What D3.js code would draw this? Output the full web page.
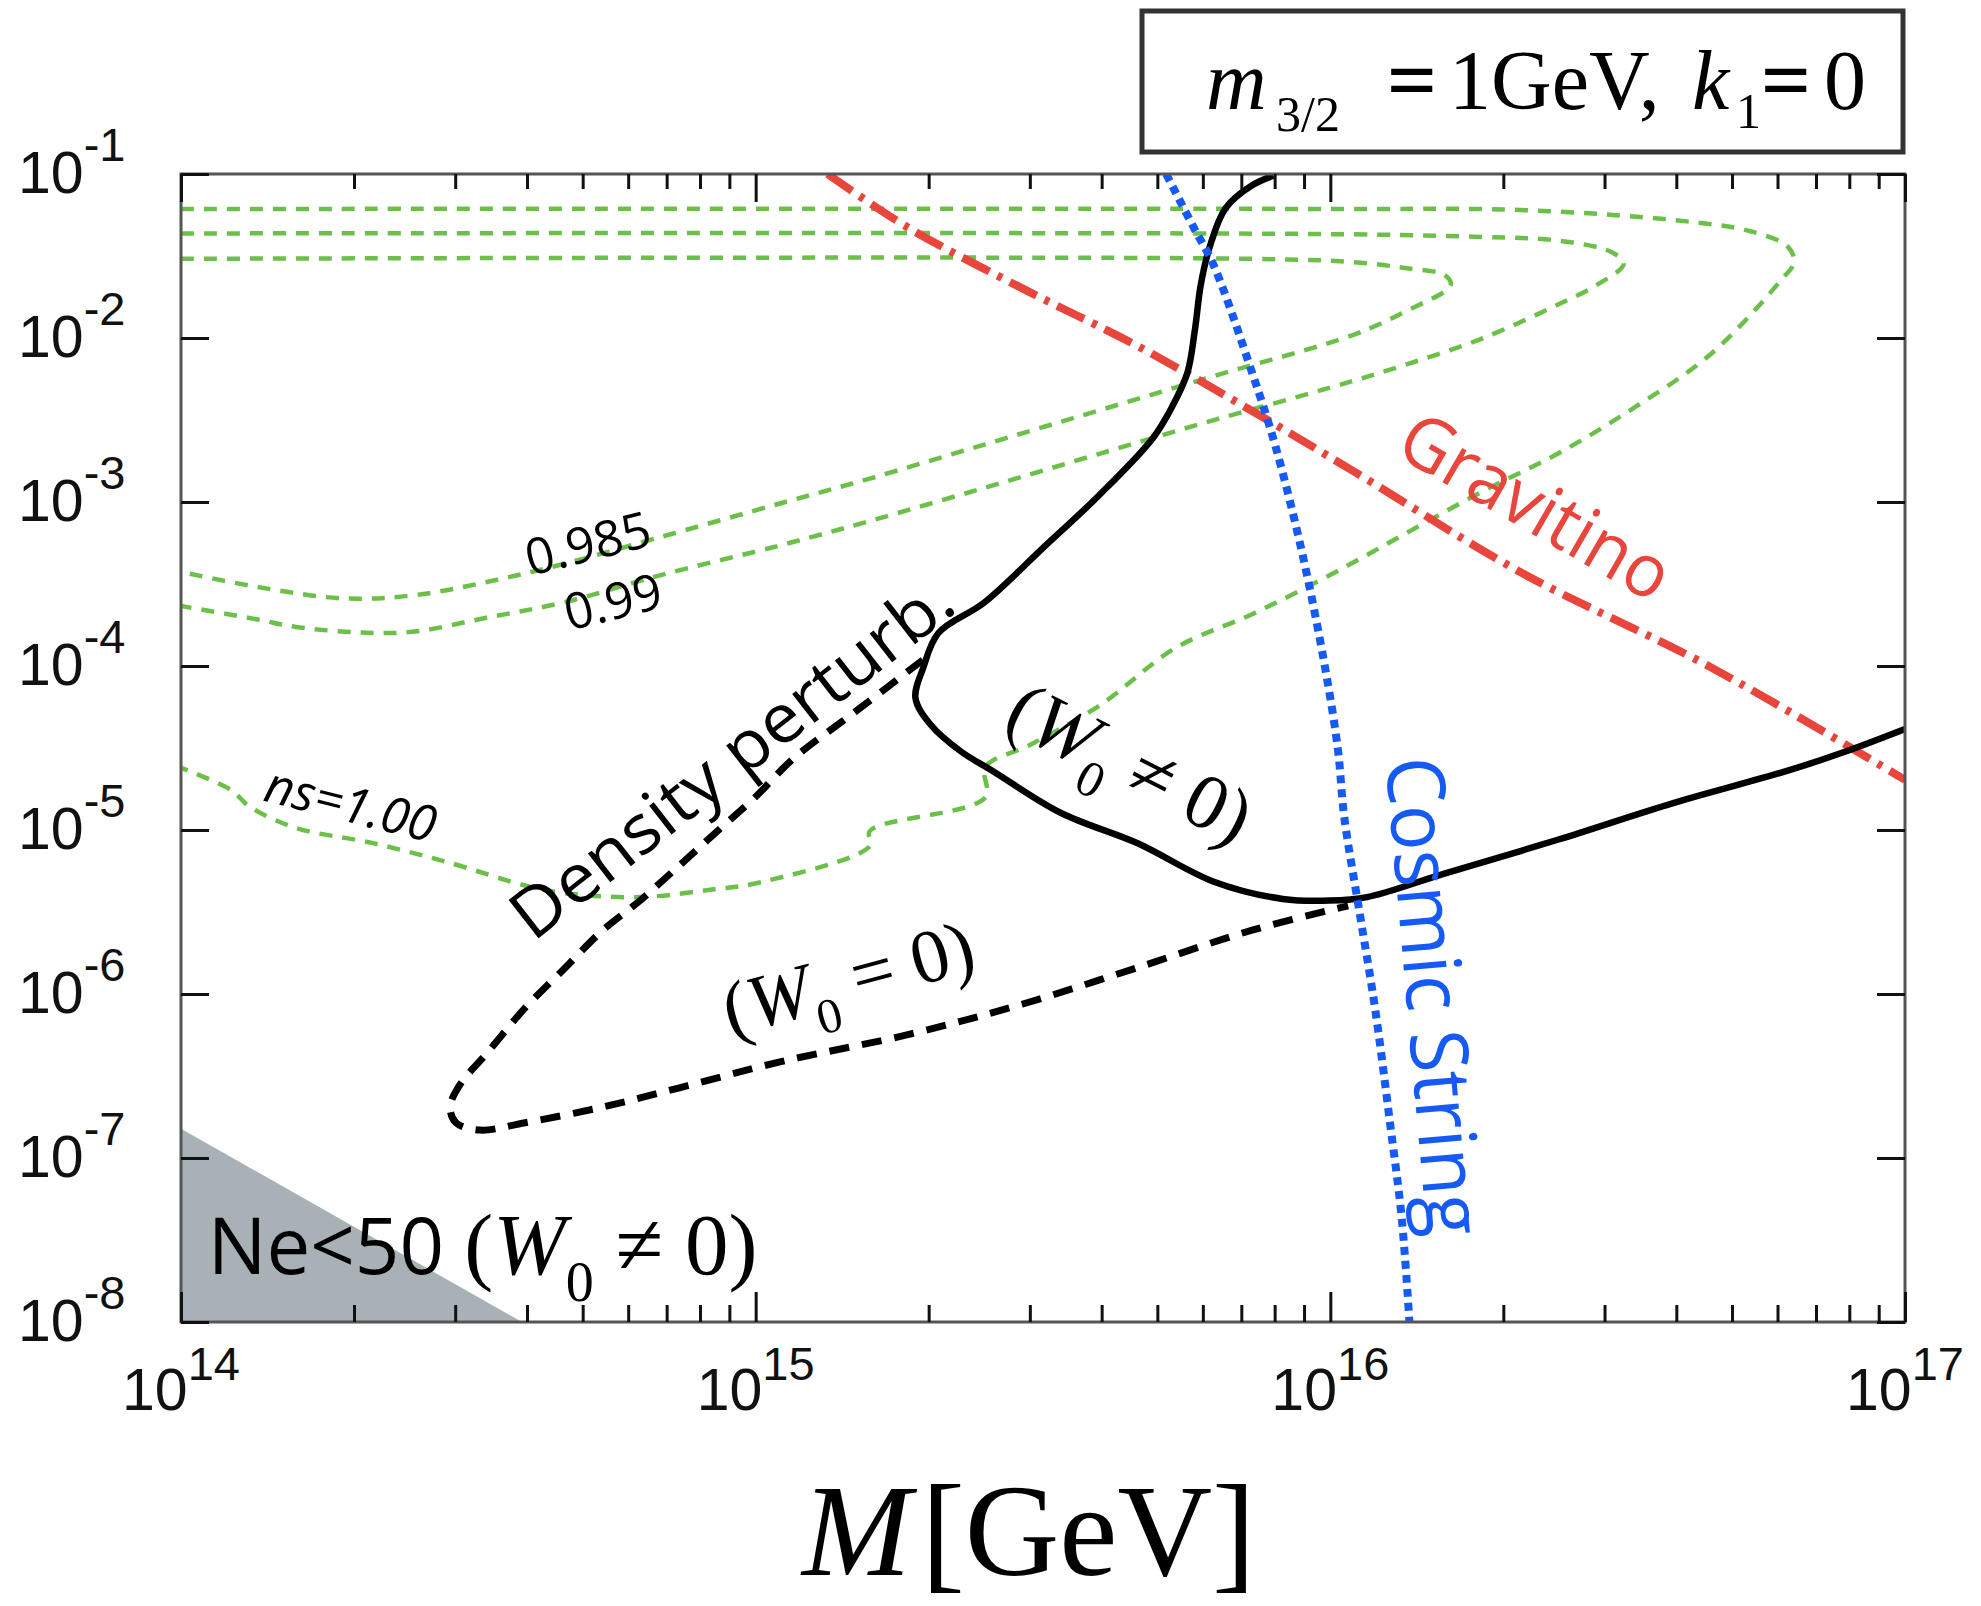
<!DOCTYPE html>
<html><head><meta charset="utf-8">
<script src="https://cdn.jsdelivr.net/npm/d3@7"></script>
<style>body{margin:0;background:#fff}</style>
</head><body>
<svg id="chart" width="1981" height="1606"></svg>
<script>
// ---------------- data (M in GeV, vertical quantity dimensionless) ----------------
const xMajorTicks = [1e14, 1e15, 1e16, 1e17];
const xTickExponents = ["14", "15", "16", "17"];
const yMajorTicks = [1e-8, 1e-7, 1e-6, 1e-5, 1e-4, 1e-3, 1e-2, 1e-1];
const yTickExponents = ["-8", "-7", "-6", "-5", "-4", "-3", "-2", "-1"];

// ns contours (green dashed)
const ns0985 = [[1.00e14,0.0304],[7.24e15,0.0304],[1.10e16,0.0290],[1.35e16,0.0267],[1.58e16,0.0242],[1.62e16,0.0210],
  [1.35e16,0.0145],[1.10e16,0.0105],[6.27e15,0.00586],[3.95e15,0.00361],[2.50e15,0.00224],[1.58e15,0.00139],
  [1.11e15,9.86e-4],[6.79e14,6.08e-4],[4.63e14,4.19e-4],[3.57e14,3.37e-4],[2.58e14,2.72e-4],[1.93e14,2.58e-4],
  [1.36e14,3.03e-4],[1.00e14,3.75e-4]];
const ns099 = [[1.00e14,0.0434],[9.95e15,0.0430],[1.84e16,0.0413],[2.50e16,0.0392],[3.09e16,0.0333],[3.24e16,0.0283],
  [2.91e16,0.0211],[2.50e16,0.0161],[1.84e16,0.00995],[1.35e16,0.00686],[9.95e15,0.00496],[6.27e15,0.00316],
  [3.95e15,0.00196],[2.50e15,0.00122],[1.58e15,7.66e-4],[1.11e15,5.47e-4],[6.79e14,3.56e-4],[4.63e14,2.44e-4],
  [3.40e14,1.97e-4],[2.58e14,1.63e-4],[2.15e14,1.59e-4],[1.585e14,1.73e-4],[1.36e14,1.92e-4],[1.00e14,2.32e-4]];
const ns100 = [[1.00e14,0.0612],[1.0e16,0.0612],[2.14e16,0.0603],[3.95e16,0.0524],[5.37e16,0.0449],[6.25e16,0.0361],
  [6.41e16,0.0290],[6.07e16,0.0223],[4.60e16,0.00802],[3.39e16,0.00379],[2.50e16,0.00199],[1.84e16,0.00116],
  [1.35e16,6.41e-4],[9.95e15,3.56e-4],[7.31e15,2.07e-4],[5.38e15,1.29e-4],[3.96e15,5.72e-5],[3.00e15,3.30e-5],
  [2.51e15,2.42e-5],[2.51e15,1.58e-5],[1.58e15,9.86e-6],[1.58e15,7.98e-6],[9.97e14,4.72e-6],[8.55e14,4.37e-6],
  [6.29e14,3.90e-6],[4.63e14,4.13e-6],[3.97e14,4.59e-6],[2.92e14,6.34e-6],[2.15e14,8.34e-6],[1.585e14,1.03e-5],
  [1.32e14,1.38e-5],[1.22e14,1.76e-5],[1.00e14,2.39e-5]];

// Gravitino bound (red dash-dot)
const gravitino = [[1.334e15,0.1],[1.84e15,0.0472],[2.917e15,0.0200],[4.62e15,0.00893],[7.31e15,0.00359],
  [1.104e16,0.00152],[2.14e16,3.74e-4],[4.60e16,9.80e-5],[1.0e17,2.02e-5]];

// Cosmic string bound (blue dotted)
const cosmicString = [[5.18e15,0.1],[5.79e15,0.0469],[6.27e15,0.0276],[7.31e15,0.00614],[8.02e15,0.00221],
  [8.93e15,4.91e-4],[9.79e15,9.80e-5],[1.031e16,3.08e-5],[1.057e16,1.21e-5],[1.124e16,3.16e-6],[1.196e16,8.22e-7],
  [1.270e16,1.64e-7],[1.331e16,4.31e-8],[1.373e16,1e-8]];

// Density perturbation, W0 != 0 (solid black)
const densityW0nonzero = [[7.96e15,0.0977],[7.31e15,0.0853],[6.57e15,0.0618],[6.17e15,0.0361],[5.95e15,0.0211],
  [5.81e15,0.0111],[5.64e15,0.00614],[5.30e15,0.00379],[4.91e15,0.00245],[3.96e15,0.00110],[3.15e15,5.18e-4],
  [2.50e15,2.44e-4],[2.08e15,1.59e-4],[1.958e15,9.80e-5],[1.897e15,6.38e-5],[2.018e15,4.37e-5],[2.28e15,3.00e-5],
  [2.58e15,2.30e-5],[3.40e15,1.27e-5],[4.62e15,8.30e-6],[6.27e15,4.84e-6],[8.26e15,3.80e-6],[9.95e15,3.71e-6],
  [1.159e16,3.90e-6],[1.574e16,5.40e-6],[2.495e16,8.75e-6],[3.95e16,1.46e-5],[6.25e16,2.30e-5],[7.88e16,3.01e-5],
  [1.0e17,4.13e-5]];

// Density perturbation, W0 = 0 (dashed black)
const densityW0zero = [[1.954e15,1.089e-4],[1.489e15,5.25e-5],[1.161e15,2.71e-5],[9.97e14,1.58e-5],[8.55e14,9.75e-6],
  [7.34e14,6.01e-6],[6.29e14,3.71e-6],[5.40e14,2.42e-6],[4.63e14,1.41e-6],[3.97e14,8.22e-7],[3.40e14,4.32e-7],
  [3.06e14,2.81e-7],[2.94e14,2.04e-7],[3.01e14,1.64e-7],[3.31e14,1.48e-7],[3.97e14,1.64e-7],[5.40e14,2.04e-7],
  [7.34e14,2.67e-7],[1.107e15,3.87e-7],[1.84e15,5.65e-7],[2.917e15,8.69e-7],[4.62e15,1.45e-6],[7.31e15,2.45e-6],
  [1.074e16,3.45e-6]];

// Ne < 50 excluded region (grey)
const neRegion = [[1e14,1.51e-7],[1e14,1e-8],[3.92e14,1e-8]];

// ---------------- drawing ----------------
const W = 1981, H = 1606;
const plot = {left: 181, right: 1905, top: 174, bottom: 1322};
const SANS = "'Open Sans','Noto Sans',sans-serif";
const TICKF = "'Liberation Sans',Arial,Helvetica,sans-serif";
const SERIF = "'Liberation Serif','Times New Roman',serif";
const GREEN = "#6cc04a", RED = "#e8453c", BLUE = "#165af5";

const svg = d3.select("#chart");
svg.append("rect").attr("width", W).attr("height", H).attr("fill", "#fff");

const x = d3.scaleLog().domain([1e14, 1e17]).range([plot.left, plot.right]);
const y = d3.scaleLog().domain([1e-8, 1e-1]).range([plot.bottom, plot.top]);

svg.append("defs").append("clipPath").attr("id", "clip")
  .append("rect").attr("x", plot.left).attr("y", plot.top)
  .attr("width", plot.right - plot.left).attr("height", plot.bottom - plot.top);

const g = svg.append("g").attr("clip-path", "url(#clip)");

const straight = d3.line().x(d => x(d[0])).y(d => y(d[1]));
const smooth = d3.line().x(d => x(d[0])).y(d => y(d[1])).curve(d3.curveCatmullRom.alpha(0.5));

g.append("path").attr("d", straight(neRegion) + "Z").attr("fill", "#a7b1b6");

[ns0985, ns099, ns100].forEach(c => {
  g.append("path").attr("d", smooth(c)).attr("fill", "none")
    .attr("stroke", GREEN).attr("stroke-width", 4.5).attr("stroke-dasharray", "13,10");
});

g.append("path").attr("d", smooth(gravitino)).attr("fill", "none")
  .attr("stroke", RED).attr("stroke-width", 8).attr("stroke-dasharray", "30,9,5,9");

g.append("path").attr("d", smooth(densityW0zero)).attr("fill", "none")
  .attr("stroke", "#000").attr("stroke-width", 7).attr("stroke-dasharray", "20,13");

g.append("path").attr("d", smooth(densityW0nonzero)).attr("fill", "none")
  .attr("stroke", "#000").attr("stroke-width", 6.5).attr("stroke-linejoin", "round");

g.append("path").attr("d", smooth(cosmicString)).attr("fill", "none")
  .attr("stroke", BLUE).attr("stroke-width", 8).attr("stroke-dasharray", "8,6");

// ---------------- frame & axes ----------------
svg.append("rect").attr("x", plot.left).attr("y", plot.top)
  .attr("width", plot.right - plot.left).attr("height", plot.bottom - plot.top)
  .attr("fill", "none").attr("stroke", "#555").attr("stroke-width", 3);

const xMinor = x.ticks().filter(v => !xMajorTicks.includes(v));
function styleAxis(sel) {
  sel.select(".domain").remove();
  sel.selectAll(".tick line").attr("stroke", "#111").attr("stroke-width", 3);
  sel.selectAll(".tick text").remove();
}
svg.append("g").attr("transform", `translate(0,${plot.bottom})`)
  .call(d3.axisBottom(x).tickValues(xMajorTicks).tickSize(-30).tickFormat("")).call(styleAxis);
svg.append("g").attr("transform", `translate(0,${plot.bottom})`)
  .call(d3.axisBottom(x).tickValues(xMinor).tickSize(-17).tickFormat("")).call(styleAxis);
svg.append("g").attr("transform", `translate(0,${plot.top})`)
  .call(d3.axisTop(x).tickValues(xMajorTicks).tickSize(-28).tickFormat("")).call(styleAxis);
svg.append("g").attr("transform", `translate(0,${plot.top})`)
  .call(d3.axisTop(x).tickValues(xMinor).tickSize(-15).tickFormat("")).call(styleAxis);
svg.append("g").attr("transform", `translate(${plot.left},0)`)
  .call(d3.axisLeft(y).tickValues(yMajorTicks).tickSize(-28).tickFormat("")).call(styleAxis);
svg.append("g").attr("transform", `translate(${plot.right},0)`)
  .call(d3.axisRight(y).tickValues(yMajorTicks).tickSize(-28).tickFormat("")).call(styleAxis);

// tick labels
yMajorTicks.forEach((v, i) => {
  const t = svg.append("text").attr("x", 18).attr("y", y(v) + 19)
    .attr("font-family", TICKF).attr("fill", "#111");
  t.append("tspan").attr("font-size", 59).text("10");
  t.append("tspan").attr("font-size", 47).attr("dy", -32).text(yTickExponents[i]);
});
xMajorTicks.forEach((v, i) => {
  const t = svg.append("text").attr("x", x(v)).attr("y", 1410)
    .attr("text-anchor", "middle").attr("font-family", TICKF).attr("fill", "#111");
  t.append("tspan").attr("font-size", 59).text("10");
  t.append("tspan").attr("font-size", 47).attr("dy", -30).text(xTickExponents[i]);
});

// axis title
const xt = svg.append("text").attr("x", 802).attr("y", 1575)
  .attr("font-family", SERIF).attr("font-size", 131).attr("fill", "#000");
xt.append("tspan").attr("font-style", "italic").text("M");
xt.append("tspan").attr("dx", 10).text("[GeV]");

// parameter box
svg.append("rect").attr("x", 1142).attr("y", 11).attr("width", 761).attr("height", 141)
  .attr("fill", "#fff").attr("stroke", "#333").attr("stroke-width", 5);
const bt = svg.append("text").attr("font-family", SERIF).attr("fill", "#000").attr("font-size", 84);
bt.append("tspan").attr("x", 1206).attr("y", 109).attr("font-style", "italic").text("m");
bt.append("tspan").attr("x", 1276).attr("y", 131).attr("font-size", 50).text("3/2");
bt.append("tspan").attr("x", 1388).attr("y", 109).attr("stroke", "#000").attr("stroke-width", 2).text("=");
bt.append("tspan").attr("x", 1449).attr("y", 109).text("1GeV,");
bt.append("tspan").attr("x", 1692).attr("y", 109).attr("font-style", "italic").text("k");
bt.append("tspan").attr("x", 1736).attr("y", 128).attr("font-size", 50).text("1");
bt.append("tspan").attr("x", 1762).attr("y", 109).attr("stroke", "#000").attr("stroke-width", 2).text("=");
bt.append("tspan").attr("x", 1824).attr("y", 109).text("0");

// ---------------- annotations ----------------
function rotLabel(pos, angle, text, opts) {
  const t = svg.append("text")
    .attr("transform", `translate(${x(pos[0])},${y(pos[1])}) rotate(${angle})`)
    .attr("text-anchor", "middle").attr("dominant-baseline", "central")
    .attr("font-family", opts.family || SANS).attr("font-size", opts.size)
    .attr("fill", opts.color || "#000");
  if (opts.italic) t.attr("font-style", "italic");
  if (opts.len) t.attr("textLength", opts.len).attr("lengthAdjust", "spacingAndGlyphs");
  t.text(text);
  return t;
}
function mathParts(t, fs, rel) {
  t.append("tspan").text("(");
  t.append("tspan").attr("font-style", "italic").text("W");
  t.append("tspan").attr("font-size", fs * 0.65).attr("dy", fs * 0.3).text("0");
  t.append("tspan").attr("dy", -fs * 0.3).text(" " + rel + " 0)");
}

const labelNs0985 = [5.10e14, 5.70e-4], labelNs099 = [5.64e14, 2.51e-4], labelNs100 = [1.977e14, 1.46e-5];
const labelDensity = [9.02e14, 2.86e-5], labelGravitino = [2.29e16, 9.73e-4], labelCosmic = [1.538e16, 9.73e-7];
const labelW0nz = [4.46e15, 2.47e-5], labelW0z = [1.452e15, 1.21e-6], labelNe = [1.113e14, 1.96e-8];

rotLabel(labelNs0985, -14, "0.985", {size: 50});
rotLabel(labelNs099, -14, "0.99", {size: 50});
rotLabel(labelNs100, 14, "ns=1.00", {size: 50, italic: true});
rotLabel(labelDensity, -38, "Density perturb.", {size: 68, len: 541});
rotLabel(labelGravitino, 30, "Gravitino", {size: 74, len: 300, color: RED});
rotLabel(labelCosmic, 85, "Cosmic String", {size: 80, len: 480, color: BLUE});

[[labelW0nz, 27, "≠", 78], [labelW0z, -15, "=", 76]].forEach(([p, a, rel, fs]) => {
  const t = svg.append("text")
    .attr("transform", `translate(${x(p[0])},${y(p[1])}) rotate(${a})`)
    .attr("text-anchor", "middle").attr("dy", 23)
    .attr("font-family", SERIF).attr("font-size", fs).attr("fill", "#000");
  mathParts(t, fs, rel);
});

const ne = svg.append("text").attr("x", x(labelNe[0])).attr("y", y(labelNe[1])).attr("fill", "#000");
ne.append("tspan").attr("font-family", SANS).attr("font-size", 78).text("Ne<50 ");
const neMath = ne.append("tspan").attr("font-family", SERIF).attr("font-size", 87);
neMath.append("tspan").text("(");
neMath.append("tspan").attr("font-style", "italic").text("W");
neMath.append("tspan").attr("font-size", 56).attr("dy", 27).text("0");
neMath.append("tspan").attr("dy", -27).text(" ≠ 0)");
</script>
</body></html>
